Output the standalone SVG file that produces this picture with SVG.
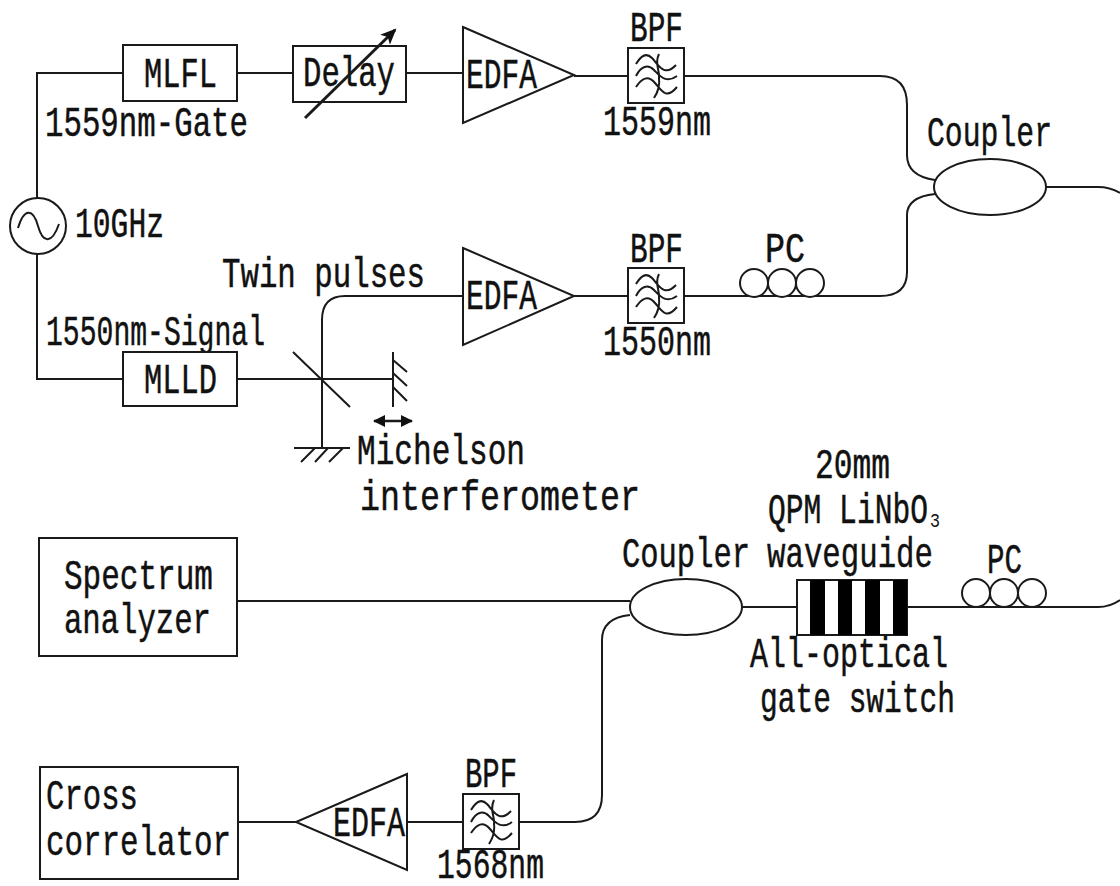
<svg xmlns="http://www.w3.org/2000/svg" width="1120" height="886" viewBox="0 0 1120 886">
<style>
text{font-family:"Liberation Mono","DejaVu Sans Mono",monospace;font-size:42px;fill:#111;stroke:#111;stroke-width:.5}
.s{fill:none;stroke:#1a1a1a;stroke-width:2}
.b{fill:#fff;stroke:#1a1a1a;stroke-width:2}
</style>
<defs>
<g id="filter">
<rect class="b" width="56" height="55"/>
<path class="s" d="M8 16C13 8 18 4 24 10S36 30 48 17M8 28C13 18 20 16 26 22S38 36 49 28M8 39C14 30 20 27 27 35S38 52 49 39M31 6C26 16 32 22 31 30C32 38 30 44 26 50"/>
</g>
<g id="pc">
<circle class="b" cx="0" cy="0" r="14"/><circle class="b" cx="28" cy="0" r="14"/><circle class="b" cx="56" cy="0" r="14"/>
</g>
<marker id="head" markerUnits="userSpaceOnUse" markerWidth="18" markerHeight="16" refX="14" refY="8" orient="auto"><path d="M0 1L16 8L0 15L4 8Z" fill="#111"/></marker>
<marker id="dbl" markerUnits="userSpaceOnUse" markerWidth="14" markerHeight="14" refX="11" refY="7" orient="auto-start-reverse"><path d="M0 1L12 7L0 13Z" fill="#111"/></marker>
</defs>
<rect width="1120" height="886" fill="#fff"/>
<g id="connectors">
<path class="s" d="M37 198V73H123M237 73H293M406 73H463M574 76H628M684 76H880Q907 76 907 105V155Q907 176 935 180"/>
<path class="s" d="M37 254V379H123M237 379H393"/>
<path class="s" d="M463 296H345Q322 296 322 320V448"/>
<path class="s" d="M574 296H628M684 296H880Q907 296 907 272V215Q907 197 935 194"/>
<path class="s" d="M1046 187H1098Q1110 187 1120 193"/>
<path class="s" d="M237 601H630M742 607H797M907 607H1098Q1110 607 1120 600"/>
<path class="s" d="M630 615Q602 618 602 640V795Q602 822 575 822H519M463 822H407M296 822H238"/>
</g>
<g id="mlfl"><rect class="b" x="123" y="45" width="114" height="56"/><text x="144" y="87" textLength="73" lengthAdjust="spacingAndGlyphs">MLFL</text></g>
<text x="45" y="136" textLength="203" lengthAdjust="spacingAndGlyphs">1559nm-Gate</text>
<g id="osc"><circle class="b" cx="38" cy="226" r="28"/><path class="s" d="M18 228C24 208 33 208 38 226S52 244 59 224"/></g>
<text x="75" y="237" textLength="89" lengthAdjust="spacingAndGlyphs">10GHz</text>
<g id="delay"><rect class="b" x="293" y="46" width="113" height="56"/><text x="303" y="86" textLength="92" lengthAdjust="spacingAndGlyphs">Delay</text><path d="M305 118L395 30" class="s" style="stroke-width:3" marker-end="url(#head)"/></g>
<g id="edfa1"><path class="b" d="M463 27L574 75L463 123Z"/><text x="466" y="88" textLength="71" lengthAdjust="spacingAndGlyphs">EDFA</text></g>
<g id="bpf1"><use href="#filter" x="628" y="48"/><text x="630" y="41" textLength="53" lengthAdjust="spacingAndGlyphs">BPF</text><text x="603" y="135" textLength="108" lengthAdjust="spacingAndGlyphs">1559nm</text></g>
<g id="coupler1"><ellipse class="b" cx="990" cy="187" rx="56" ry="28"/><text x="927" y="146" textLength="125" lengthAdjust="spacingAndGlyphs">Coupler</text></g>
<text x="222" y="287" textLength="203" lengthAdjust="spacingAndGlyphs">Twin pulses</text>
<text x="46" y="345" textLength="219" lengthAdjust="spacingAndGlyphs">1550nm-Signal</text>
<g id="mlld"><rect class="b" x="123" y="352" width="114" height="54"/><text x="144" y="393" textLength="73" lengthAdjust="spacingAndGlyphs">MLLD</text></g>
<g id="michelson">
<path class="s" d="M293 352L350 407M393 352V407M393 360L407 372M393 373L407 386M393 387L407 401M294 448H350M315 448L301 462M328 448L315 462M343 448L329 462"/>
<path class="s" style="stroke-width:2.5" d="M374 421H412" marker-start="url(#dbl)" marker-end="url(#dbl)"/>
<text x="357" y="464" textLength="168" lengthAdjust="spacingAndGlyphs">Michelson</text>
<text x="360" y="510" textLength="280" lengthAdjust="spacingAndGlyphs">interferometer</text>
</g>
<g id="edfa2"><path class="b" d="M463 248L574 296L463 345Z"/><text x="466" y="309" textLength="71" lengthAdjust="spacingAndGlyphs">EDFA</text></g>
<g id="bpf2"><use href="#filter" x="628" y="268"/><text x="630" y="262" textLength="53" lengthAdjust="spacingAndGlyphs">BPF</text><text x="603" y="355" textLength="108" lengthAdjust="spacingAndGlyphs">1550nm</text></g>
<g id="pc1"><use href="#pc" x="754" y="283"/><text x="765" y="262" textLength="40" lengthAdjust="spacingAndGlyphs">PC</text></g>
<g id="spectrum"><rect class="b" x="39" y="538" width="198" height="118"/><text x="64" y="589" textLength="149" lengthAdjust="spacingAndGlyphs">Spectrum</text><text x="64" y="633" textLength="147" lengthAdjust="spacingAndGlyphs">analyzer</text></g>
<g id="coupler2"><ellipse class="b" cx="686" cy="607" rx="56" ry="28"/><text x="622" y="567" textLength="128" lengthAdjust="spacingAndGlyphs">Coupler</text></g>
<g id="waveguide">
<rect class="b" x="797" y="580" width="110" height="55"/>
<path fill="#000" d="M810 580h15v55h-15zM838 580h14v55h-14zM865 580h15v55h-15zM893 580h14v55h-14z"/>
<text x="815" y="478" textLength="75" lengthAdjust="spacingAndGlyphs">20mm</text>
<text x="768" y="523" textLength="160" lengthAdjust="spacingAndGlyphs">QPM LiNbO</text>
<text x="930" y="527" style="font-size:20px;stroke-width:0" textLength="10" lengthAdjust="spacingAndGlyphs">3</text>
<text x="767" y="567" textLength="166" lengthAdjust="spacingAndGlyphs">waveguide</text>
<text x="750" y="667" textLength="198" lengthAdjust="spacingAndGlyphs">All-optical</text>
<text x="760" y="712" textLength="195" lengthAdjust="spacingAndGlyphs">gate switch</text>
</g>
<g id="pc2"><use href="#pc" x="976" y="593"/><text x="987" y="573" textLength="35" lengthAdjust="spacingAndGlyphs">PC</text></g>
<g id="cross"><rect class="b" x="40" y="767" width="198" height="112"/><text x="46" y="809" textLength="92" lengthAdjust="spacingAndGlyphs">Cross</text><text x="46" y="855" textLength="185" lengthAdjust="spacingAndGlyphs">correlator</text></g>
<g id="edfa3"><path class="b" d="M407 774L296 822L407 870Z"/><text x="333" y="836" textLength="72" lengthAdjust="spacingAndGlyphs">EDFA</text></g>
<g id="bpf3"><use href="#filter" x="463" y="794"/><text x="465" y="787" textLength="52" lengthAdjust="spacingAndGlyphs">BPF</text><text x="437" y="878" textLength="107" lengthAdjust="spacingAndGlyphs">1568nm</text></g>
</svg>
